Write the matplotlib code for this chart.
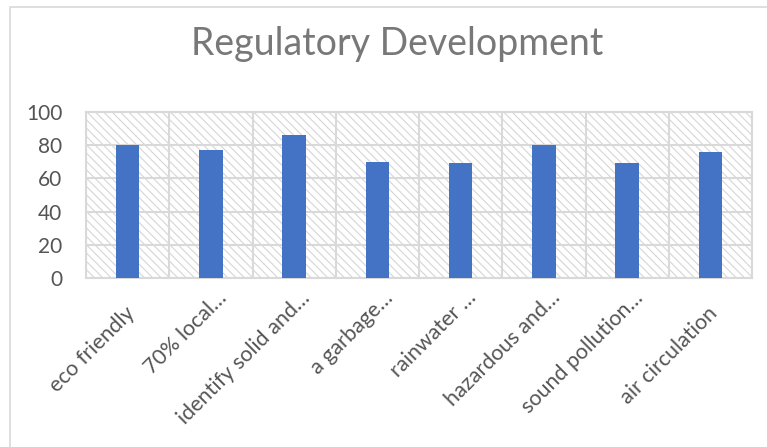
import matplotlib
matplotlib.use("Agg")
import matplotlib.pyplot as plt
from matplotlib.patches import Rectangle
from matplotlib.transforms import offset_copy
import numpy as np

categories = ["eco friendly", "70% local…", "identify solid and…", "a garbage…",
              "rainwater …", "hazardous and…", "sound pollution…", "air circulation"]
values = [80, 77, 86, 70, 69, 80, 69, 76]
y_ticks = [0, 20, 40, 60, 80, 100]
title = "Regulatory Development"

plt.rcParams["font.family"] = ["Lato", "DejaVu Sans"]
plt.rcParams["hatch.color"] = "#d6d6d6"
plt.rcParams["hatch.linewidth"] = 0.8

W, H = 767, 447
fig = plt.figure(figsize=(W / 100, H / 100), dpi=100)
fig.patch.set_facecolor("white")

# outer chart frame
fig.patches.append(Rectangle((10 / W, -0.05), 1.2, 1 - 7 / H + 0.05,
                             transform=fig.transFigure, fill=False,
                             edgecolor="#d9d9d9", linewidth=1.2))

ax = fig.add_axes([86 / W, 1 - 278 / H, 666 / W, 166 / H])
ax.patch.set_facecolor("white")

# hatched plot background
ax.add_patch(Rectangle((0, 0), 1, 1, transform=ax.transAxes, facecolor="white",
                       edgecolor="#d6d6d6", hatch="\\\\\\\\", linewidth=0, zorder=0))

x = np.arange(len(categories))
ax.bar(x, values, width=0.28, color="#4472C4", zorder=3)

ax.set_xlim(-0.5, len(categories) - 0.5)
ax.set_ylim(0, 100)
ax.set_yticks(y_ticks)
ax.set_yticklabels([str(v) for v in y_ticks])
ax.set_xticks(x)
ax.set_xticklabels([])
ax.set_xticks(np.arange(-0.5, len(categories), 1), minor=True)

ax.tick_params(axis="both", which="both", length=0)
ax.tick_params(axis="y", labelsize=15, labelcolor="#555555", pad=17)

# rotated category labels; truncated ones sit a little higher and further right
for xi, lab in zip(x, categories):
    if lab.endswith("…"):
        dx, dy = 17, -21
    else:
        dx, dy = 8, -36
    tr = offset_copy(ax.get_xaxis_transform(), fig=fig, x=dx, y=dy, units="dots")
    ax.text(xi, 0, lab, transform=tr, rotation=45, rotation_mode="anchor",
            ha="right", va="baseline", fontsize=15.5, color="#555555")

ax.grid(True, axis="y", which="major", color="#d9d9d9", linewidth=1.5, zorder=1)
ax.grid(True, axis="x", which="minor", color="#d9d9d9", linewidth=1.5, zorder=1)
ax.set_axisbelow(True)
for s in ax.spines.values():
    s.set_color("#d9d9d9")
    s.set_linewidth(1.5)

fig.text(397 / W, 1 - 55 / H, title, ha="center", va="baseline",
         fontsize=27, color="#787878")

fig.savefig("out.png", dpi=100, facecolor="white")
